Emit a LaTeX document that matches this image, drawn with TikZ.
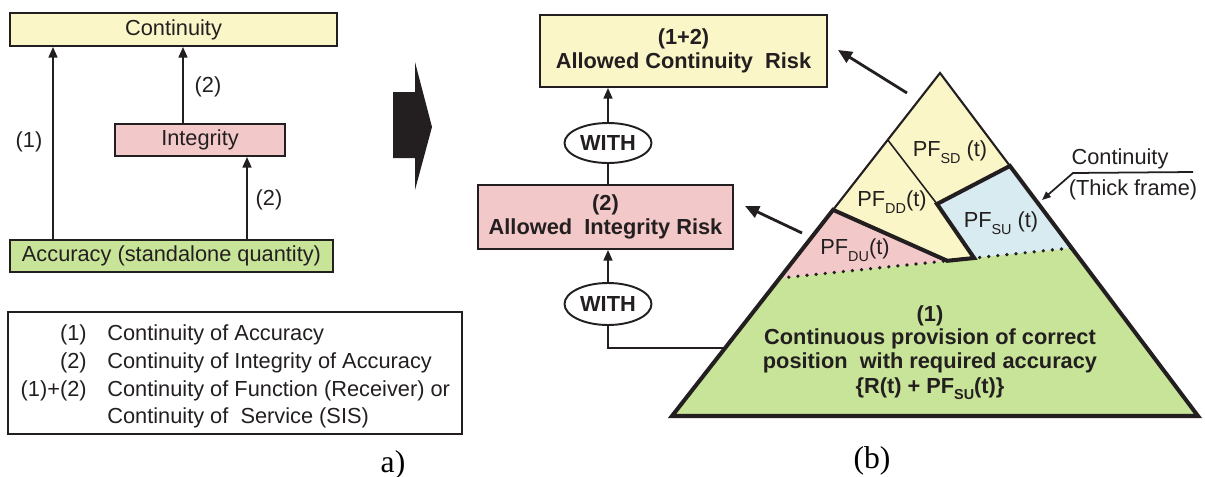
\documentclass[tikz,border=0pt]{standalone}
\usepackage{fontspec}
\setmainfont{Liberation Sans}
\newfontfamily\capfont{Liberation Serif}
\usetikzlibrary{arrows.meta,shapes.geometric,calc}

\definecolor{ink}{RGB}{35,31,32}
\definecolor{paleyellow}{RGB}{250,246,200}
\definecolor{palepink}{RGB}{243,200,200}
\definecolor{palegreen}{RGB}{200,228,152}
\definecolor{paleblue}{RGB}{216,235,240}

% lowered small index letters, as in PF_SD
\newcommand\lowsub[1]{\raisebox{-0.6ex}{\fontsize{8.2}{9}\selectfont #1}}

\begin{document}
\begin{tikzpicture}[x=0.02cm,y=-0.02cm,
  every node/.style={text=ink,font=\fontsize{12.4}{14}\selectfont},
  box/.style={draw=ink,line width=1.1pt,inner sep=0pt,align=center},
  bbox/.style={box,font=\bfseries\fontsize{12.4}{13.8}\selectfont},
  withnode/.style={ellipse,draw=ink,line width=1.1pt,inner sep=0pt,
    minimum width=1.74cm,minimum height=0.8cm,font=\bfseries\fontsize{12.4}{14}\selectfont},
  arr/.style={draw=ink,line width=1.1pt,-{Triangle[length=6pt,width=5pt]}},
  bigarr/.style={draw=ink,line width=1.6pt,-{Triangle[length=8pt,width=7pt]}},
  plain/.style={draw=ink,line width=1.1pt},
  thinedge/.style={draw=ink,line width=1.2pt,line join=miter},
  divider/.style={draw=ink,line width=0.9pt},
  thickedge/.style={draw=ink,line width=2.3pt,line join=miter},
  dotline/.style={draw=ink,line width=2.1pt,line cap=round,dash pattern=on 0pt off 5.2pt},
  legnum/.style={anchor=base east,inner sep=0pt},
  legtext/.style={anchor=base west,inner sep=0pt},
  sublabel/.style={font=\capfont\fontsize{18}{20}\selectfont,text=black}]

\useasboundingbox (0,0) rectangle (1205,477);

% ---------- a) dependency chart ----------
\node[box,fill=paleyellow,minimum width=6.54cm,minimum height=0.66cm] (cont) at (173.5,29.5) {Continuity};
\node[box,fill=palepink,minimum width=3.4cm,minimum height=0.64cm] (integ) at (200,140) {Integrity};
\node[box,fill=palegreen,minimum width=6.46cm,minimum height=0.64cm] (accu) at (171.5,256) {Accuracy (standalone quantity)};

\coordinate (c1) at (53,0);
\coordinate (c2) at (183,0);
\coordinate (c3) at (247,0);
\draw[arr] (accu.north -| c1) -- (cont.south -| c1);
\draw[arr] (integ.north -| c2) -- (cont.south -| c2);
\draw[arr] (accu.north -| c3) -- (integ.south -| c3);

\node (n1) at (29,142) {(1)};
\node (n2a) at (208,87) {(2)};
\node (n2b) at (269,200) {(2)};

% legend
\node[box,minimum width=9.08cm,minimum height=2.44cm] (legend) at (235,373) {};
\node[legnum] (g1) at (87,340) {(1)};
\node[legtext] (t1) at (107,340) {Continuity of Accuracy};
\node[legnum] (g2) at (87,368) {(2)};
\node[legtext] (t2) at (107,368) {Continuity of Integrity of Accuracy};
\node[legnum] (g3) at (87,396) {(1)+(2)};
\node[legtext] (t3) at (107,396) {Continuity of Function (Receiver) or};
\node[legtext] (t4) at (107,423) {Continuity of\ \ Service (SIS)};

\node[sublabel] (capa) at (393,465) {a)};

% block arrow between the two parts
\fill[ink] (393,92) -- (415,92) -- (415,62) -- (432,127) -- (415,190) -- (415,158) -- (393,158) -- cycle;

% ---------- (b) risk pyramid ----------
\node[bbox,fill=paleyellow,minimum width=5.74cm,minimum height=1.44cm] (risk12) at (683.5,51) {(1+2)\\Allowed Continuity\ \ Risk};
\node[withnode] (with1) at (608,143) {WITH};
\node[bbox,fill=palepink,minimum width=5.1cm,minimum height=1.28cm] (risk2) at (605.5,217) {(2)\\Allowed\ \ Integrity Risk};
\node[withnode,minimum height=0.84cm] (with2) at (608,304) {WITH};

% pyramid corners and edge points
\coordinate (T) at (940,73);
\coordinate (BL) at (672,416);
\coordinate (BR) at (1198,416);
\coordinate (L1) at ($(T)!0.195!(BL)$);
\coordinate (L2) at ($(T)!0.399!(BL)$);
\coordinate (L3) at ($(T)!0.598!(BL)$);
\coordinate (Lw) at ($(T)!0.802!(BL)$);
\coordinate (R1) at ($(T)!0.271!(BR)$);
\coordinate (R2) at ($(T)!0.510!(BR)$);
\coordinate (S) at ($(L3)!0.574!(R2)$);
\coordinate (Q) at ($(L3)!0.666!(R2)$);
\coordinate (P) at (937,204);

% region fills
\fill[palegreen] (L3) -- (BL) -- (BR) -- (R2) -- cycle;
\fill[palepink] (L2) -- (S) -- (L3) -- cycle;
\fill[paleblue] (R1) -- (R2) -- (Q) -- (P) -- cycle;
\fill[paleyellow] (T) -- (R1) -- (P) -- (Q) -- (S) -- (L2) -- cycle;

% outlines
\draw[thinedge] (L2) -- (T) -- (R1);
\draw[divider] (L1) -- (P);
\draw[dotline] (L3) -- (R2);
\draw[thickedge] (L2) -- (BL) -- (BR) -- (R1) -- (P) -- (Q) -- (S) -- cycle;

% region labels
\node (lsd) at (950,152) {PF\lowsub{SD} (t)};
\node (ldd) at (892,202) {PF\lowsub{DD}(t)};
\node (lsu) at (1001,223) {PF\lowsub{SU} (t)};
\node (ldu) at (855,250) {PF\lowsub{DU}(t)};
\node[align=center,font=\bfseries\fontsize{12.4}{13.2}\selectfont] (green) at (930,353)
  {(1)\\Continuous provision of correct\\position\ \ with required accuracy\\[1pt]\{R(t) + PF\lowsub{SU}(t)\}};

% connections on the left of the pyramid
\draw[arr] (with1.north) -- (risk12.south -| with1.north);
\draw[plain] (risk2.north -| with1.south) -- (with1.south);
\draw[arr] (with2.north) -- (risk2.south -| with2.north);
\draw[plain] (with2.south) |- (Lw);

% pointers from the pyramid to the risk boxes
\coordinate (p1s) at (907,93);
\coordinate (p1e) at (838,50);
\coordinate (p2s) at (802,233);
\coordinate (p2e) at (745,206);
\draw[bigarr] (p1s) -- (p1e);
\draw[bigarr] (p2s) -- (p2e);

% thick frame callout
\node (kc) at (1120,159) {Continuity};
\node (kf) at (1133,190) {(Thick frame)};
\coordinate (k1) at (1193,172);
\coordinate (k2) at (1073,173);
\coordinate (k3) at (1042,200);
\draw[draw=ink,line width=1pt,-{Triangle[length=5pt,width=4pt]}] (k1) -- (k2) -- (k3);

\node[sublabel] (capb) at (872,461) {(b)};
\end{tikzpicture}
\end{document}
